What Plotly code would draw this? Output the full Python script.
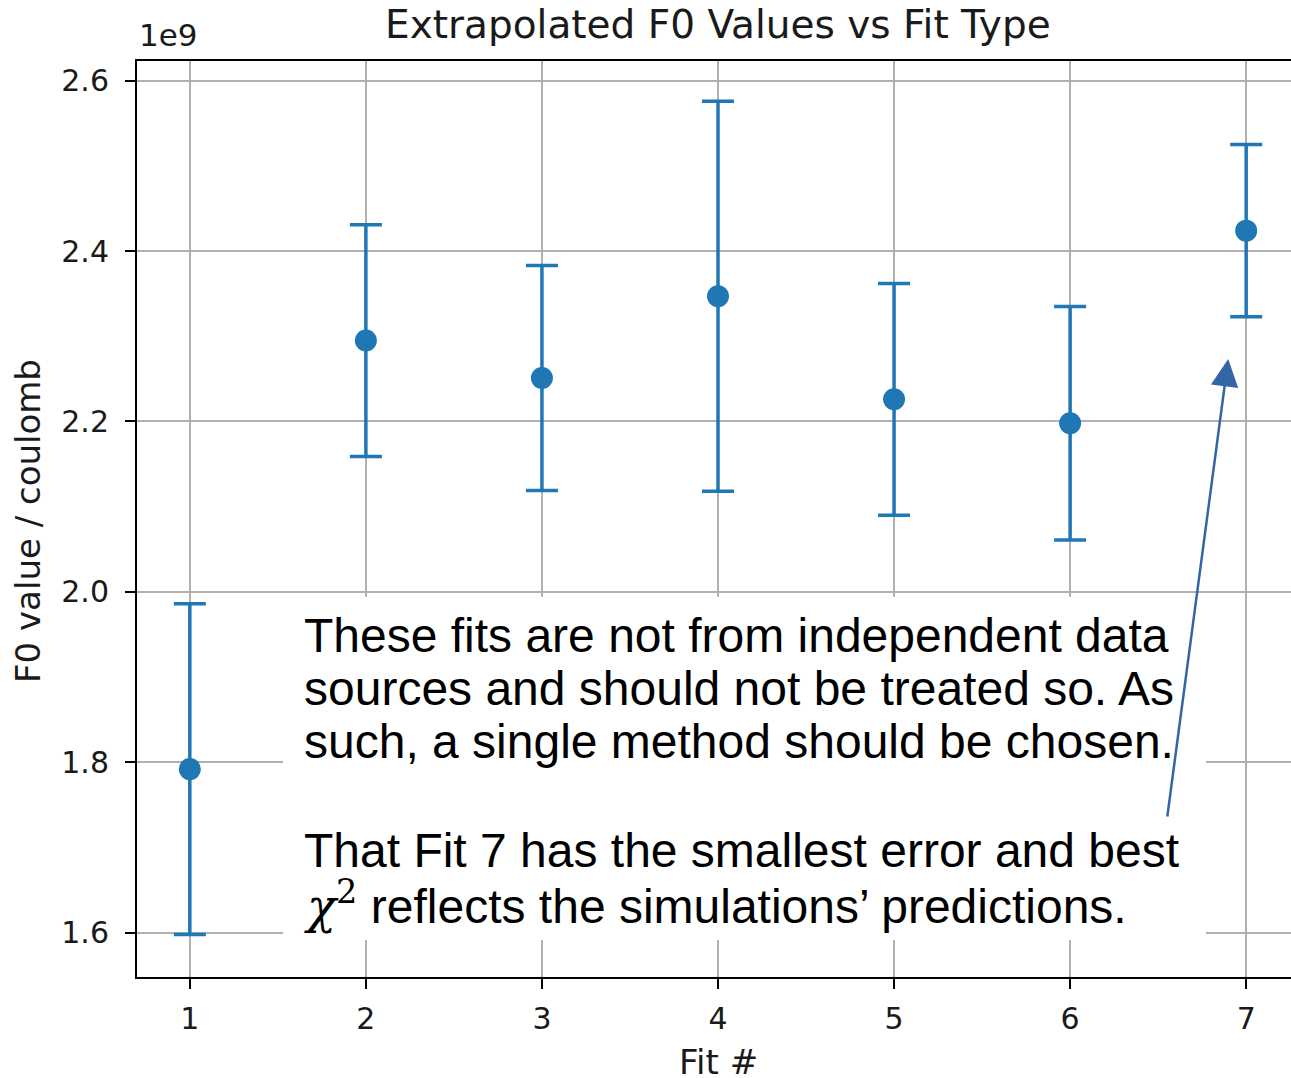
import plotly.graph_objects as go

# ---- data (F0 values in units of 1e9 coulomb) ----
fit_numbers = [1, 2, 3, 4, 5, 6, 7]
f0_values = [1.792, 2.295, 2.251, 2.347, 2.226, 2.198, 2.424]
f0_errors = [0.194, 0.136, 0.132, 0.229, 0.136, 0.137, 0.101]
y_ticks = [1.6, 1.8, 2.0, 2.2, 2.4, 2.6]

title_text = "Extrapolated F0 Values vs Fit Type"
x_label = "Fit #"
y_label = "F0 value / coulomb"
offset_text = "1e9"
note_lines = [
    "These fits are not from independent data",
    "sources and should not be treated so. As",
    "such, a single method should be chosen.",
    "That Fit 7 has the smallest error and best",
    "<span style=\"font-family:'DejaVu Serif'\"><i>χ</i><sup>2</sup></span> reflects the simulations’ predictions.",
]

W, H = 1291, 1078
# plot-area edges in pixels
L, T, B, R = 137, 61, 977, 1291


def px(xs):
    return (xs - L) / (R - L)


def py(ys):
    return (B - ys) / (B - T)


BLUE = "#1f77b4"
TXT = "#1a1a1a"
TICKFONT = dict(family="DejaVu Sans", size=30, color=TXT)

fig = go.Figure()
fig.add_trace(go.Scatter(
    x=fit_numbers, y=f0_values, mode="markers",
    marker=dict(size=22, color=BLUE),
    error_y=dict(type="data", array=f0_errors, visible=True,
                 thickness=3.5, width=16, color=BLUE),
    showlegend=False,
))

fig.update_layout(
    width=W, height=H,
    margin=dict(l=L, r=W - R, t=T, b=H - B, pad=0),
    plot_bgcolor="white", paper_bgcolor="white",
    showlegend=False,
)
fig.update_xaxes(
    range=[0.7, 7.2546], tickmode="array", tickvals=fit_numbers,
    ticktext=[str(v) for v in fit_numbers],
    showgrid=True, gridcolor="#b0b0b0", gridwidth=2,
    showline=True, linecolor="black", linewidth=2, mirror=True,
    ticks="outside", ticklen=10, tickwidth=2, tickcolor="black",
    tickfont=TICKFONT, zeroline=False, ticklabelstandoff=4,
)
fig.update_yaxes(
    range=[1.548, 2.6231], tickmode="array", tickvals=y_ticks,
    ticktext=[f"{v:.1f}" for v in y_ticks],
    showgrid=True, gridcolor="#b0b0b0", gridwidth=2,
    showline=True, linecolor="black", linewidth=2, mirror=False,
    ticks="outside", ticklen=10, tickwidth=2, tickcolor="black",
    tickfont=TICKFONT, zeroline=False, ticklabelstandoff=10,
)

# white box behind the note
fig.add_shape(type="rect", xref="paper", yref="paper",
              x0=px(283), x1=px(1206), y0=py(940), y1=py(597),
              fillcolor="white", line=dict(width=0), layer="above")

annots = []
annots.append(dict(text=title_text, xref="x", yref="paper", x=4, y=py(24),
                   xanchor="center", yanchor="middle", showarrow=False,
                   font=dict(family="DejaVu Sans", size=39, color=TXT)))
annots.append(dict(text=offset_text, xref="paper", yref="paper", x=px(137), y=py(35),
                   xanchor="left", yanchor="middle", showarrow=False,
                   font=dict(family="DejaVu Sans", size=31, color=TXT)))
annots.append(dict(text=x_label, xref="x", yref="paper", x=4, y=py(1062),
                   xanchor="center", yanchor="middle", showarrow=False,
                   font=dict(family="DejaVu Sans", size=34, color=TXT)))
annots.append(dict(text=y_label, xref="paper", yref="paper", x=px(28), y=py(521),
                   xanchor="center", yanchor="middle", showarrow=False, textangle=-90,
                   font=dict(family="DejaVu Sans", size=34, color=TXT)))
line_centers = [635, 688, 741, 850, 903]
for txt, yc in zip(note_lines, line_centers):
    annots.append(dict(text=txt, xref="paper", yref="paper", x=px(302), y=py(yc),
                       xanchor="left", yanchor="middle", showarrow=False,
                       font=dict(family="Liberation Sans", size=48, color="black")))
annots.append(dict(text="", xref="x", yref="y", x=6.898, y=2.2734,
                   axref="x", ayref="y", ax=6.551, ay=1.7346,
                   showarrow=True, arrowhead=2, arrowsize=2.2, arrowwidth=2.5,
                   arrowcolor="#3465a4", standoff=0, startstandoff=0))
fig.update_layout(annotations=annots)

fig.write_html(
    "out.html",
    config={"displayModeBar": False},
    post_script="document.body.style.margin='0';document.body.style.overflow='hidden';",
)
